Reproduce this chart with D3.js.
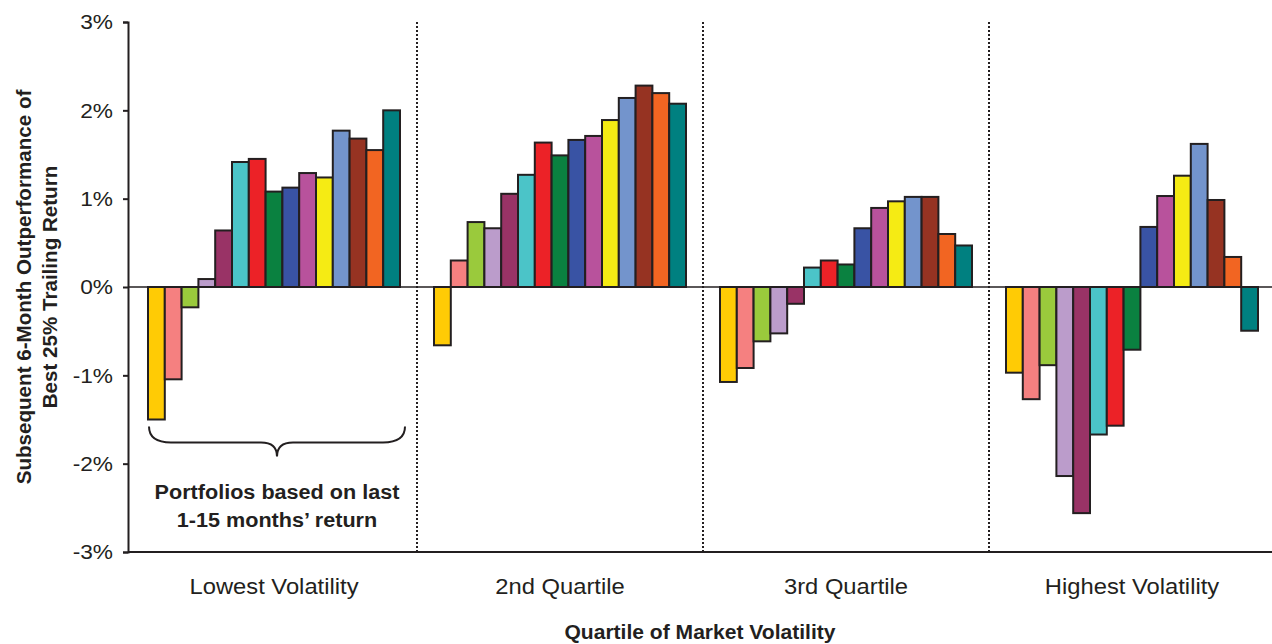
<!DOCTYPE html>
<html><head><meta charset="utf-8">
<script src="https://cdn.jsdelivr.net/npm/d3@7"></script>
<style>body{margin:0;background:#fff}svg{display:block;font-family:"Liberation Sans",Arial,sans-serif}</style>
</head><body><svg id="c" width="1272" height="644"></svg>
<script>
const groups = ["Lowest Volatility","2nd Quartile","3rd Quartile","Highest Volatility"];
const portfolios = ["1","2","3","4","5","6","7","8","9","10","11","12","13","14","15"];
const colors = ["#FFCB05","#F58080","#9ACA3C","#BB9CCB","#993366","#4BC4C8","#EC2227","#0A8140","#3953A4","#B8529C","#F5EB14","#7394CC","#963322","#F26522","#008080"];
const lowestVol = [-1.50,-1.045,-0.23,0.09,0.64,1.415,1.45,1.08,1.125,1.29,1.24,1.77,1.68,1.55,2.00];
const quartile2 = [-0.66,0.30,0.735,0.665,1.055,1.27,1.635,1.49,1.665,1.71,1.89,2.14,2.28,2.195,2.075];
const quartile3 = [-1.075,-0.917,-0.615,-0.525,-0.19,0.22,0.30,0.255,0.665,0.895,0.97,1.02,1.02,0.60,0.47];
const highestVol = [-0.97,-1.27,-0.885,-2.14,-2.56,-1.67,-1.57,-0.71,0.68,1.03,1.26,1.62,0.985,0.34,-0.495];
const yTicks = [-3,-2,-1,0,1,2,3];
const seriesByGroup = [lowestVol, quartile2, quartile3, highestVol];

const FONT = "Liberation Sans, Arial, sans-serif";
const INK = "#231F20";
const svg = d3.select("#c");
const y = d3.scaleLinear().domain([-3,3]).range([552,22]);
const x0 = d3.scaleBand().domain(groups).range([131,1275]).paddingInner(0);
const x1 = d3.scaleBand().domain(portfolios).range([0,252]);
const inner = (x0.bandwidth()-252)/2;

// dotted group separators
svg.append("g").selectAll("line").data(groups.slice(1)).join("line")
  .attr("x1",d=>x0(d)).attr("x2",d=>x0(d)).attr("y1",22).attr("y2",552)
  .attr("stroke",INK).attr("stroke-width",2).attr("stroke-dasharray","2,2");

// bars
const gg = svg.append("g").selectAll("g").data(groups).join("g")
  .attr("transform",d=>`translate(${x0(d)+inner},0)`);
gg.selectAll("rect").data((g,i)=>seriesByGroup[i].map((v,j)=>({v,j})))
  .join("rect")
  .attr("x",d=>x1(portfolios[d.j]))
  .attr("width",x1.bandwidth())
  .attr("y",d=>y(Math.max(0,d.v)))
  .attr("height",d=>Math.abs(y(d.v)-y(0)))
  .attr("fill",d=>colors[d.j])
  .attr("stroke",INK).attr("stroke-width",2);

// zero line
svg.append("line").attr("x1",128).attr("x2",1272).attr("y1",y(0)).attr("y2",y(0))
  .attr("stroke",INK).attr("stroke-width",1.5);

const stretch = [];

// y axis
const yAxis = svg.append("g").attr("transform","translate(128,0)")
  .call(d3.axisLeft(y).tickValues(yTicks).tickSize(5).tickPadding(10).tickFormat(d=>d+"%"));
yAxis.select(".domain").attr("stroke",INK).attr("stroke-width",2);
yAxis.selectAll(".tick line").attr("stroke",INK).attr("stroke-width",2);
yAxis.selectAll("text").attr("font-size",21).attr("fill",INK).attr("font-family",FONT)
  .each(function(){stretch.push(this);});

// x axis
const xAxis = svg.append("g").attr("transform","translate(0,552)")
  .call(d3.axisBottom(x0).tickSize(0).tickPadding(26));
xAxis.select(".domain").attr("d","M128,0H1272").attr("stroke",INK).attr("stroke-width",2);
xAxis.selectAll("text").attr("font-size",22).attr("fill",INK).attr("font-family",FONT)
  .each(function(){stretch.push(this);});

// axis titles
svg.append("text").attr("x",700).attr("y",639).attr("text-anchor","middle")
  .attr("font-size",19.5).attr("font-weight","bold").attr("fill",INK)
  .text("Quartile of Market Volatility").each(function(){stretch.push(this);});
const yt = svg.append("text").attr("transform","translate(31,287) rotate(-90)")
  .attr("text-anchor","middle").attr("font-size",20.6).attr("font-weight","bold").attr("fill",INK);
yt.append("tspan").attr("x",0).attr("dy",0).text("Subsequent 6-Month Outperformance of");
yt.append("tspan").attr("x",0).attr("dy",26).text("Best 25% Trailing Return");

// bracket annotation
const bx0 = x0(groups[0])+inner+x1(portfolios[0])+1;
const bx1 = x0(groups[0])+inner+x1(portfolios[14])+x1.bandwidth()+5;
const bm = (bx0+bx1)/2, by = y(-1.58), bh = y(-1.76);
svg.append("path")
  .attr("d",`M${bx0},${by} Q${bx0},${bh} ${bx0+22},${bh} L${bm-16},${bh} Q${bm},${bh} ${bm},${bh+14} Q${bm},${bh} ${bm+16},${bh} L${bx1-22},${bh} Q${bx1},${bh} ${bx1},${by}`)
  .attr("fill","none").attr("stroke",INK).attr("stroke-width",2);
const ann = svg.append("text").attr("text-anchor","middle").attr("font-size",20).attr("font-weight","bold").attr("fill",INK);
ann.append("tspan").attr("x",bm).attr("y",499).text("Portfolios based on last").each(function(){stretch.push(this);});
ann.append("tspan").attr("x",bm).attr("y",527).text("1-15 months\u2019 return").each(function(){stretch.push(this);});

// the reference artwork is slightly wider than its glyph height implies
stretch.forEach(el=>{
  const w = el.getComputedTextLength();
  d3.select(el).attr("textLength",w*1.08).attr("lengthAdjust","spacingAndGlyphs");
});
</script></body></html>
